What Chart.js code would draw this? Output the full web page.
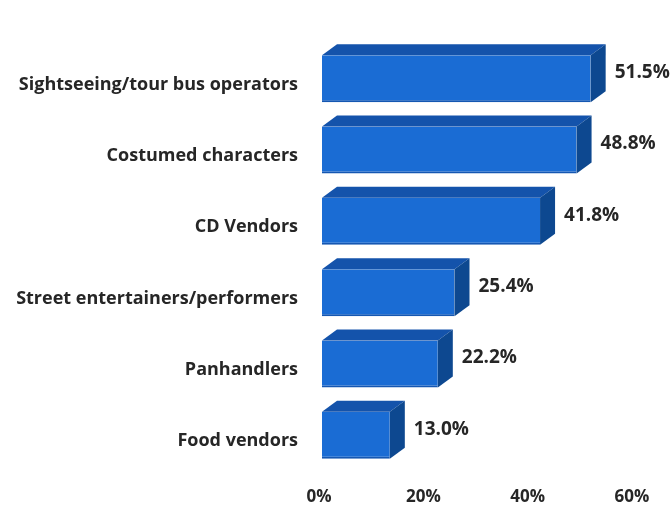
<!DOCTYPE html>
<html>
<head>
<meta charset="utf-8">
<script src="https://cdn.jsdelivr.net/npm/chart.js@4"></script>
<style>
  html, body { margin: 0; padding: 0; background: #ffffff; }
  #wrap { width: 672px; height: 513px; }
</style>
</head>
<body>
<div id="wrap"><canvas id="c" width="672" height="513"></canvas></div>
<script>
// Share of respondents naming each group
const categories = [
  'Sightseeing/tour bus operators',
  'Costumed characters',
  'CD Vendors',
  'Street entertainers/performers',
  'Panhandlers',
  'Food vendors'
];
const shares = [51.5, 48.8, 41.8, 25.4, 22.2, 13.0];
const axisTicks = [0, 20, 40, 60];

const FRONT = '#1a6cd4';
const TOP = '#1453ab';
const SIDE = '#0d4890';
const TEXT = '#262626';
const FONT = '"Open Sans", Lato, sans-serif';
const DX = 15, DY = 11;

// Extrudes each bar into a box and writes its value beside it
const boxBars = {
  id: 'boxBars',
  afterDatasetsDraw(chart) {
    const ctx = chart.ctx;
    const meta = chart.getDatasetMeta(0);
    ctx.save();
    meta.data.forEach((bar, i) => {
      const x0 = bar.base, x1 = bar.x;
      const yT = bar.y - bar.height / 2, yB = bar.y + bar.height / 2;
      ctx.fillStyle = TOP;
      ctx.beginPath();
      ctx.moveTo(x0, yT);
      ctx.lineTo(x0 + DX, yT - DY);
      ctx.lineTo(x1 + DX, yT - DY);
      ctx.lineTo(x1, yT);
      ctx.closePath();
      ctx.fill();
      ctx.fillStyle = SIDE;
      ctx.beginPath();
      ctx.moveTo(x1, yT);
      ctx.lineTo(x1 + DX, yT - DY);
      ctx.lineTo(x1 + DX, yB - DY);
      ctx.lineTo(x1, yB);
      ctx.closePath();
      ctx.fill();
      ctx.fillStyle = TEXT;
      ctx.font = 'bold 19px ' + FONT;
      ctx.textAlign = 'left';
      ctx.textBaseline = 'middle';
      ctx.fillText(shares[i].toFixed(1) + '%', x1 + DX + 9, bar.y - 6);
    });
    ctx.restore();
  }
};

new Chart(document.getElementById('c'), {
  type: 'bar',
  data: {
    labels: categories,
    datasets: [{
      data: shares,
      backgroundColor: FRONT,
      borderColor: '#1557b2',
      borderWidth: { top: 0, left: 0, right: 0, bottom: 2 },
      borderSkipped: false,
      barPercentage: 0.66,
      categoryPercentage: 1
    }]
  },
  options: {
    indexAxis: 'y',
    responsive: false,
    animation: false,
    events: [],
    layout: { padding: { top: 43, bottom: 7, left: 0, right: 37 } },
    plugins: { legend: { display: false }, tooltip: { enabled: false } },
    scales: {
      x: {
        min: 0, max: 60,
        afterBuildTicks: s => { s.ticks = axisTicks.map(v => ({ value: v })); },
        afterFit: s => { s.height = 35; },
        grid: { display: false, drawTicks: false },
        border: { display: false },
        ticks: {
          padding: 16,
          labelOffset: -3,
          color: TEXT,
          font: { family: FONT, size: 17, weight: 'bold' },
          callback: v => v + '%'
        }
      },
      y: {
        afterFit: s => { s.width = 322; },
        grid: { display: false, drawTicks: false },
        border: { display: false },
        ticks: {
          padding: 24,
          labelOffset: 6,
          color: TEXT,
          font: { family: FONT, size: 18, weight: 'bold' }
        }
      }
    }
  },
  plugins: [boxBars]
});
</script>
</body>
</html>
